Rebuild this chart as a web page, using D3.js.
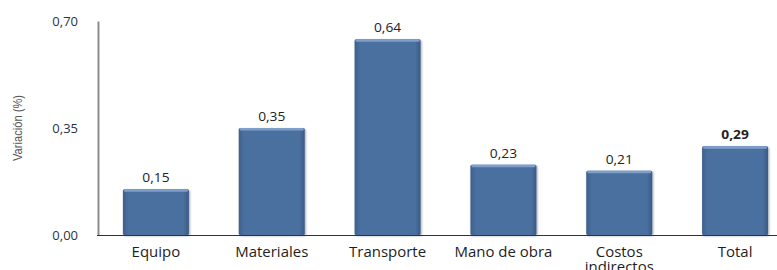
<!DOCTYPE html>
<html><head><meta charset="utf-8">
<script src="https://cdn.jsdelivr.net/npm/d3@7/dist/d3.min.js"></script>
<style>body{margin:0;background:#fff}svg{display:block}</style>
</head><body>
<script>
const categories = ["Equipo","Materiales","Transporte","Mano de obra","Costos indirectos","Total"];
const values = [0.15,0.35,0.64,0.23,0.21,0.29];
const valueLabels = ["0,15","0,35","0,64","0,23","0,21","0,29"];
const tickValues = [0,0.35,0.70];
const tickLabels = ["0,00","0,35","0,70"];
const yTitle = "Variación (%)";

const W=777,H=270;
const svg=d3.select("body").append("svg").attr("width",W).attr("height",H);
const defs=svg.append("defs");
const g=defs.append("linearGradient").attr("id","bg").attr("x1","0").attr("x2","1").attr("y1","0").attr("y2","0");
[[0,"#3e5f8c"],[0.08,"#4a6f9f"],[0.92,"#4a6f9f"],[1,"#3b5a85"]].forEach(s=>g.append("stop").attr("offset",s[0]).attr("stop-color",s[1]));
const f=defs.append("filter").attr("id","sh").attr("x","-20%").attr("y","-20%").attr("width","140%").attr("height","140%");
f.append("feDropShadow").attr("dx",1).attr("dy",1).attr("stdDeviation",1.2).attr("flood-color","#000").attr("flood-opacity",0.35);

const font="'Open Sans', sans-serif";
const x=d3.scaleBand().domain(categories).range([98,793]).paddingInner(0.43).paddingOuter(0.215);
const y=d3.scaleLinear().domain([0,0.70]).range([235,21]);
const cx=d=>x(d)+x.bandwidth()/2;

// bars
const bars=svg.append("g").selectAll("g").data(categories).join("g");
bars.append("rect").attr("x",d=>x(d)).attr("y",(d,i)=>y(values[i])).attr("width",x.bandwidth())
  .attr("height",(d,i)=>y(0)-y(values[i])).attr("fill","url(#bg)").attr("filter","url(#sh)").attr("rx",1.5);
bars.append("rect").attr("x",d=>x(d)+1).attr("y",(d,i)=>y(values[i])).attr("width",x.bandwidth()-2)
  .attr("height",2.5).attr("fill","#7f9fcb").attr("rx",1);

// value labels
svg.append("g").selectAll("text").data(categories).join("text")
  .attr("transform",(d,i)=>`translate(${cx(d)},${y(values[i])-7}) scale(1.06,1)`)
  .attr("text-anchor","middle").attr("font-family",font).attr("font-size",13)
  .attr("font-weight",(d,i)=>i===categories.length-1?"bold":"normal")
  .attr("fill","#222").text((d,i)=>valueLabels[i]);

// axes
const yAxis=d3.axisLeft(y).tickValues(tickValues).tickFormat((d,i)=>tickLabels[i]).tickSize(0).tickPadding(20);
const ya=svg.append("g").attr("transform","translate(98,0)").call(yAxis);
ya.select(".domain").attr("stroke","#8c8c8c").attr("stroke-width",2);
ya.selectAll("text").attr("font-family",font).attr("font-size",13).attr("fill","#2b3340");

svg.append("line").attr("x1",97).attr("x2",W).attr("y1",235.5).attr("y2",235.5).attr("stroke","#333").attr("stroke-width",1.2);

// category labels
const cl=svg.append("g").selectAll("text").data(categories).join("text")
  .attr("transform",d=>`translate(${cx(d)},257) scale(1.07,1)`).attr("text-anchor","middle")
  .attr("font-family",font).attr("font-size",14).attr("fill","#1e1e1e");
cl.each(function(d){
  const t=d3.select(this);
  if(d==="Costos indirectos"){
    t.append("tspan").attr("x",0).attr("dy",0).text("Costos");
    t.append("tspan").attr("x",0).attr("dy",15).text("indirectos");
  } else t.text(d);
});

// y title
svg.append("text").attr("transform","translate(22,128) rotate(-90)").attr("text-anchor","middle")
  .attr("font-family","'Liberation Sans Narrow', 'Liberation Sans', sans-serif").attr("font-size",12)
  .attr("fill","#555").attr("textLength",66).attr("lengthAdjust","spacingAndGlyphs").text(yTitle);
</script>
</body></html>
